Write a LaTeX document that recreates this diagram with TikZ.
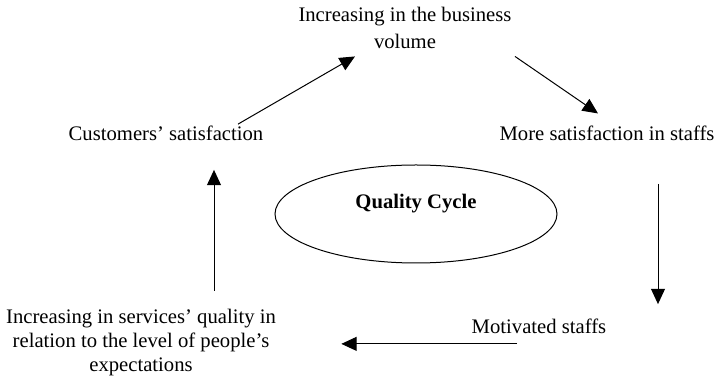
\documentclass[tikz,border=0pt]{standalone}
\usepackage{fontspec}
\setmainfont{Liberation Serif}
\usetikzlibrary{arrows.meta,shapes.geometric}

\tikzset{every picture/.style={line width=0.75pt}}
\tikzset{
  txt/.style={inner sep=0.75pt, font=\fontsize{15.5}{20.5}\selectfont, align=center},
  flow/.style={draw=black, -{Triangle[length=11.5pt,width=10.5pt]}},
}

\begin{document}
\begin{tikzpicture}[x=0.75pt,y=0.75pt,yscale=-1,xscale=1]
%set diagram left start at 0, and has height of 377
\useasboundingbox (0,0) rectangle (719,377);

% Text Node
\node[txt] (volume) at (405,28) {Increasing in the business\\volume};
% Text Node
\node[txt] (customers) at (166,133) {Customers' satisfaction};
% Text Node
\node[txt] (staffs) at (607,133) {More satisfaction in staffs};
% Text Node
\node[txt] (motivated) at (539,326) {Motivated staffs};
% Text Node
\node[txt, font=\fontsize{15.5}{18}\selectfont] (services) at (141,343) {Increasing in services' quality in\\relation to the level of people's\\expectations};

%Shape: Ellipse
\node[ellipse, draw, inner sep=0pt, minimum width=211.5pt, minimum height=73.5pt] (cycle) at (416,214) {};
% Text Node
\node[txt, font=\fontsize{15.5}{20.5}\selectfont\bfseries] (cyclelabel) at ([yshift=-8pt]cycle.center) {Quality Cycle};

%Straight Lines
\draw[flow] ([xshift=54pt]customers.north) -- ([xshift=-37.5pt,yshift=4.5pt]volume.south);
%Straight Lines
\draw[flow] ([xshift=82.5pt,yshift=4.5pt]volume.south) -- ([xshift=-6.75pt,yshift=-8pt]staffs.north);
%Straight Lines
\coordinate (down) at ([xshift=38.25pt,yshift=31.5pt]staffs.south);
\draw[flow, shorten >=9.75pt] (down) -- (down |- motivated.north);
%Straight Lines
\coordinate (back) at ([xshift=-16.5pt,yshift=6.75pt]motivated.south);
\draw[flow, shorten >=48pt] (back) -- (back -| services.east);
%Straight Lines
\coordinate (up) at ([xshift=54.75pt,yshift=-13pt]services.north);
\draw[flow, shorten >=21pt] (up) -- (up |- customers.south);

\end{tikzpicture}
\end{document}
